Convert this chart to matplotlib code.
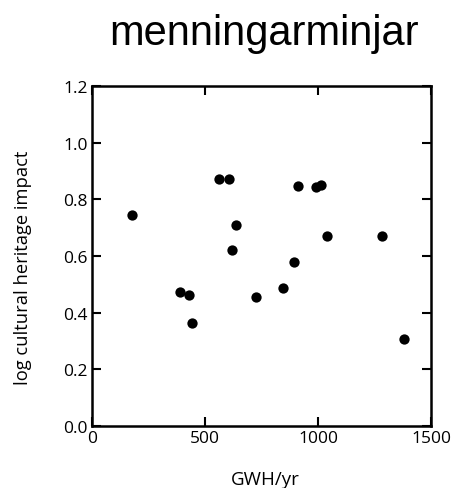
import matplotlib
matplotlib.use('Agg')
import matplotlib.pyplot as plt

gwh = [179, 564, 608, 911, 992, 1013, 639, 620, 1038, 1283, 896, 390, 428, 441, 725, 845, 1382]
impact = [0.746, 0.871, 0.871, 0.846, 0.845, 0.849, 0.710, 0.622, 0.670, 0.670, 0.579,
          0.474, 0.463, 0.363, 0.457, 0.486, 0.308]

x_ticks = [0, 500, 1000, 1500]
y_ticks = [0.0, 0.2, 0.4, 0.6, 0.8, 1.0, 1.2]

fig = plt.figure(figsize=(4.54, 4.89), dpi=100)
ax = fig.add_axes([92 / 454, 1 - 427 / 489, 339 / 454, 340 / 489])

ax.scatter(gwh, impact, s=55, color='black', zorder=3, linewidths=0)

ax.set_xlim(0, 1500)
ax.set_ylim(0, 1.2)
ax.set_xticks(x_ticks)
ax.set_yticks(y_ticks)
ax.set_xticklabels([str(t) for t in x_ticks], family='Open Sans', fontsize=12.5)
ax.set_yticklabels(['%.1f' % t for t in y_ticks], family='Open Sans', fontsize=12.5)
ax.tick_params(direction='in', top=True, right=True, length=6.5, width=1.5, pad=3)
for s in ax.spines.values():
    s.set_linewidth(1.8)

fig.text(265 / 454, 1 - 480 / 489, 'GWH/yr', family='Open Sans', fontsize=13.5,
         ha='center', va='center')
fig.text(23 / 454, 1 - 268 / 489, 'log cultural heritage impact', family='Open Sans',
         fontsize=13.2, rotation=90, ha='center', va='center')
fig.text(264 / 454, 1 - 45 / 489, 'menningarminjar', family='Liberation Sans', fontsize=30,
         ha='center', va='baseline')

fig.savefig('out.png', dpi=100)
